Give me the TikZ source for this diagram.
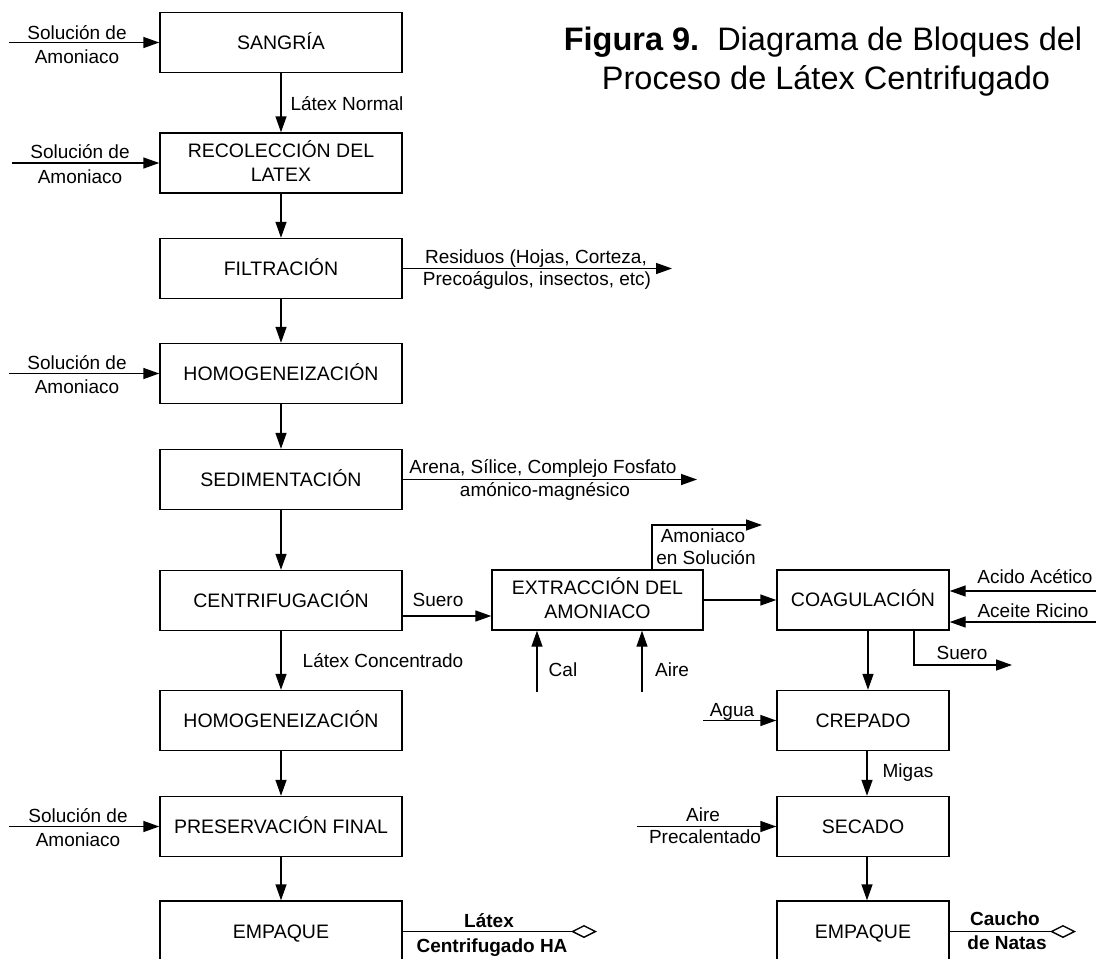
\documentclass[tikz,border=0pt]{standalone}
\usepackage{fontspec}
\setmainfont{Liberation Sans}
\usetikzlibrary{arrows.meta}

\begin{document}
\begin{tikzpicture}[x=1pt,y=-1pt,
  every node/.style={font=\fontsize{19}{24}\selectfont, inner sep=0pt},
  block/.style={draw, line width=1.4pt, minimum height=60pt,
                font=\fontsize{19.5}{24}\selectfont,
                text height=13.8pt, text depth=0pt, align=center},
  wide/.style={block, minimum width=242pt},
  narrow/.style={block, minimum width=172pt},
  twoline/.style={text height=37.8pt},
  lbl/.style={anchor=base},
  bold lbl/.style={anchor=base, font=\fontsize{19}{24}\selectfont\bfseries},
  title/.style={anchor=base, font=\fontsize{32.5}{40}\selectfont},
  flow/.style={line width=1.4pt, -{Triangle[length=16pt,width=11pt]}},
  product/.style={line width=1.4pt, -{Diamond[open,length=26pt,width=13pt]}}
]
\useasboundingbox (0,0) rectangle (1096,959);

% ---- title ----
\node[title] (t1) at (823,50) {\textbf{Figura 9.}\ \ Diagrama de Bloques del};
\node[title] (t2) at (826,89) {Proceso de Látex Centrifugado};

% ---- main line: concentrated latex ----
\node[wide] (sangria) at (281,42.5) {SANGRÍA};
\node[wide,twoline] (recol) at (281,163) {RECOLECCIÓN DEL\\LATEX};
\node[wide] (filtr) at (281,268.5) {FILTRACIÓN};
\node[wide] (homogA) at (281,373.5) {HOMOGENEIZACIÓN};
\node[wide] (sedim) at (281,479.5) {SEDIMENTACIÓN};
\node[wide] (centrif) at (281,600.5) {CENTRIFUGACIÓN};
\node[wide] (homogB) at (281,720.5) {HOMOGENEIZACIÓN};
\node[wide] (preserv) at (281,826.5) {PRESERVACIÓN FINAL};
\node[wide,minimum height=61pt] (empA) at (281,931.5) {EMPAQUE};

% ---- serum line: cream rubber ----
\node[block,twoline,minimum width=211pt] (extr) at (597.5,600) {EXTRACCIÓN DEL\\AMONIACO};
\node[narrow] (coag) at (863,600) {COAGULACIÓN};
\node[narrow] (crep) at (863,720.5) {CREPADO};
\node[narrow] (secado) at (863,826.5) {SECADO};
\node[narrow,minimum height=61pt] (empB) at (863,931.5) {EMPAQUE};

% ---- loose ends of the streams ----
\coordinate (in1) at (9,42.5);
\coordinate (in2) at (12,163);
\coordinate (in3) at (9,373.5);
\coordinate (in4) at (9,826.5);
\coordinate (resid) at (672,268.5);
\coordinate (arena) at (697,479.5);
\coordinate (prodA) at (597,931.5);
\coordinate (prodB) at (1076,931.5);
\coordinate (amon) at (762,525);
\coordinate (cal) at (537,692);
\coordinate (aire) at (642,692);
\coordinate (acido) at (1096,591);
\coordinate (ricino) at (1096,622);
\coordinate (sueroR) at (1012,665);
\coordinate (agua) at (703,720.5);
\coordinate (aireP) at (637,826.5);
\coordinate (sueroL) at ([yshift=-15.5pt]centrif.east);

% ---- main line connectors ----
\draw[flow] (in1) -- (sangria.west);
\draw[flow] (sangria) -- (recol);
\draw[flow] (in2) -- (recol.west);
\draw[flow] (recol) -- (filtr);
\draw[flow] (filtr.east) -- (resid);
\draw[flow] (filtr) -- (homogA);
\draw[flow] (in3) -- (homogA.west);
\draw[flow] (homogA) -- (sedim);
\draw[flow] (sedim.east) -- (arena);
\draw[flow] (sedim) -- (centrif);
\draw[flow] (centrif) -- (homogB);
\draw[flow] (homogB) -- (preserv);
\draw[flow] (in4) -- (preserv.west);
\draw[flow] (preserv) -- (empA);
\draw[product] (empA.east) -- (prodA);

% ---- serum line connectors ----
\draw[flow] (sueroL) -- (sueroL -| extr.west);
\draw[flow] ([xshift=54.5pt]extr.north) |- (amon);
\draw[flow] (cal) -- (cal |- extr.south);
\draw[flow] (aire) -- (aire |- extr.south);
\draw[flow] (extr) -- (coag);
\draw[flow] (acido) -- (acido -| coag.east);
\draw[flow] (ricino) -- (ricino -| coag.east);
\draw[flow] ([xshift=5pt]coag.south) -- ([xshift=5pt]crep.north);
\draw[flow] ([xshift=51pt]coag.south) |- (sueroR);
\draw[flow] (agua) -- (crep.west);
\draw[flow] ([xshift=4pt]crep.south) -- ([xshift=4pt]secado.north);
\draw[flow] (aireP) -- (secado.west);
\draw[flow] ([xshift=4pt]secado.south) -- ([xshift=4pt]empB.north);
\draw[product] (empB.east) -- (prodB);

% ---- stream labels ----
\node[lbl] (s1a) at (77,39) {Solución de};
\node[lbl] (s1b) at (77,63) {Amoniaco};
\node[lbl] (s2a) at (80,158) {Solución de};
\node[lbl] (s2b) at (80,183) {Amoniaco};
\node[lbl] (s3a) at (77,369) {Solución de};
\node[lbl] (s3b) at (77,393) {Amoniaco};
\node[lbl] (s4a) at (78,822) {Solución de};
\node[lbl] (s4b) at (78,846) {Amoniaco};
\node[lbl] (lnorm) at (347,110) {Látex Normal};
\node[lbl] (res1) at (536,263) {Residuos (Hojas, Corteza,};
\node[lbl] (res2) at (537,285) {Precoágulos, insectos, etc)};
\node[lbl] (are1) at (543,473) {Arena, Sílice, Complejo Fosfato};
\node[lbl] (are2) at (545,496) {amónico-magnésico};
\node[lbl] (suero1) at (438,606) {Suero};
\node[lbl] (lconc) at (383,667) {Látex Concentrado};
\node[lbl] (amon1) at (703,542) {Amoniaco};
\node[lbl] (amon2) at (706,564) {en Solución};
\node[lbl] (calL) at (563,676) {Cal};
\node[lbl] (aireL) at (672,676) {Aire};
\node[lbl] (acidoL) at (1035,583) {Acido Acético};
\node[lbl] (ricinoL) at (1033,617) {Aceite Ricino};
\node[lbl] (suero2) at (962,659) {Suero};
\node[lbl] (aguaL) at (732,716) {Agua};
\node[lbl] (migas) at (908,777) {Migas};
\node[lbl] (airP1) at (703,821) {Aire};
\node[lbl] (airP2) at (705,843) {Precalentado};
\node[bold lbl] (pA1) at (489,927) {Látex};
\node[bold lbl] (pA2) at (492,952) {Centrifugado HA};
\node[bold lbl] (pB1) at (1005,925) {Caucho};
\node[bold lbl] (pB2) at (1007,949) {de Natas};
\end{tikzpicture}
\end{document}
